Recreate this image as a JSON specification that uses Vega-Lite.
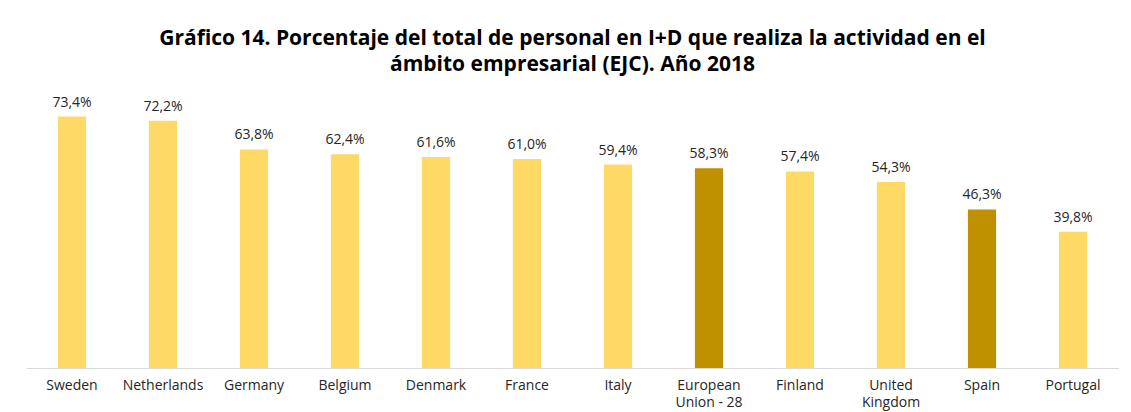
{
  "$schema": "https://vega.github.io/schema/vega-lite/v6.json",
  "autosize": {"type": "none"},
  "padding": {"left": 26.5, "top": 94, "right": 12, "bottom": 44},
  "width": 1092,
  "height": 274,
  "background": "white",
  "title": {
    "text": ["Gráfico 14. Porcentaje del total de personal en I+D que realiza la actividad en el", "ámbito empresarial (EJC). Año 2018"],
    "font": "Open Sans",
    "fontSize": 21,
    "fontWeight": "bold",
    "color": "#000000",
    "anchor": "middle",
    "lineHeight": 26,
    "offset": 19
  },
  "data": {
    "values": [
      {"pais": "Sweden", "valor": 73.4, "tipo": "pais"},
      {"pais": "Netherlands", "valor": 72.2, "tipo": "pais"},
      {"pais": "Germany", "valor": 63.8, "tipo": "pais"},
      {"pais": "Belgium", "valor": 62.4, "tipo": "pais"},
      {"pais": "Denmark", "valor": 61.6, "tipo": "pais"},
      {"pais": "France", "valor": 61.0, "tipo": "pais"},
      {"pais": "Italy", "valor": 59.4, "tipo": "pais"},
      {"pais": "European Union - 28", "valor": 58.3, "tipo": "destacado"},
      {"pais": "Finland", "valor": 57.4, "tipo": "pais"},
      {"pais": "United Kingdom", "valor": 54.3, "tipo": "pais"},
      {"pais": "Spain", "valor": 46.3, "tipo": "destacado"},
      {"pais": "Portugal", "valor": 39.8, "tipo": "pais"}
    ]
  },
  "transform": [
    {"calculate": "replace(format(datum.valor, '.1f'), '.', ',') + '%'", "as": "etiqueta"}
  ],
  "encoding": {
    "x": {
      "field": "pais",
      "type": "nominal",
      "sort": null,
      "scale": {"paddingInner": 0.69, "paddingOuter": 0.345},
      "axis": {
        "title": null,
        "labelAngle": 0,
        "labelFont": "Open Sans",
        "labelFontSize": 14,
        "labelColor": "#262626",
        "labelPadding": 10,
        "labelLineHeight": 17,
        "labelExpr": "datum.value == 'European Union - 28' ? ['European', 'Union - 28'] : datum.value == 'United Kingdom' ? ['United', 'Kingdom'] : datum.value",
        "ticks": false,
        "domainColor": "#D9D9D9",
        "domainWidth": 1.2
      }
    },
    "y": {
      "field": "valor",
      "type": "quantitative",
      "scale": {"domain": [0, 80]},
      "axis": null
    }
  },
  "layer": [
    {
      "mark": {"type": "bar"},
      "encoding": {
        "color": {
          "field": "tipo",
          "type": "nominal",
          "scale": {"domain": ["pais", "destacado"], "range": ["#FFD966", "#BF9000"]},
          "legend": null
        }
      }
    },
    {
      "mark": {"type": "text", "baseline": "bottom", "dy": -7, "font": "Open Sans", "fontSize": 14, "color": "#262626"},
      "encoding": {"text": {"field": "etiqueta"}}
    }
  ],
  "config": {"view": {"stroke": null}}
}
